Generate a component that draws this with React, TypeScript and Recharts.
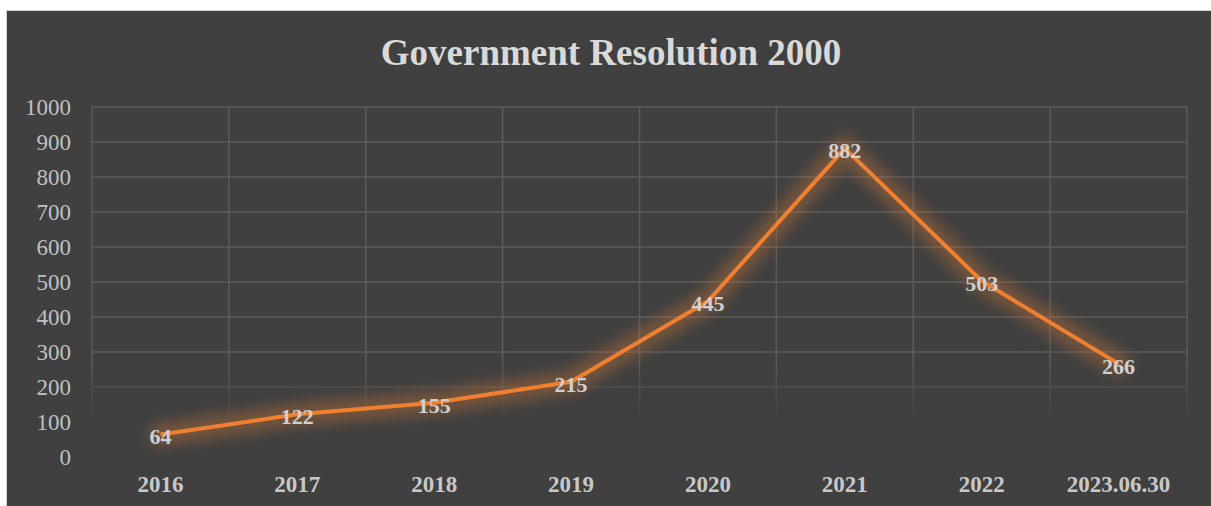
import React from 'react'
import { CartesianGrid, LabelList, Line, LineChart, XAxis, YAxis } from 'recharts'

const categories = ['2016', '2017', '2018', '2019', '2020', '2021', '2022', '2023.06.30']
const resolutions = [64, 122, 155, 215, 445, 882, 503, 266]
const yTicks = [0, 100, 200, 300, 400, 500, 600, 700, 800, 900, 1000]

const data = categories.map((period, i) => ({ period, value: resolutions[i] }))

const FONT = '"Liberation Serif", "Times New Roman", serif'

export default function App() {
  return (
    <div style={{ position: 'absolute', left: 0, top: 0, width: 1211, height: 506, background: '#fff' }}>
      <div
        style={{
          position: 'absolute',
          left: 6,
          top: 10,
          width: 1205,
          height: 496,
          background: '#404040',
          borderTop: '1px solid #d0d0d0',
          borderLeft: '1px solid #d0d0d0',
          boxSizing: 'border-box',
        }}
      />
      <div
        style={{
          position: 'absolute',
          left: 0,
          top: 31,
          width: 1222,
          textAlign: 'center',
          fontFamily: FONT,
          fontWeight: 'bold',
          fontSize: 37,
          color: '#d9d9d9',
        }}
      >
        Government Resolution 2000
      </div>
      <div style={{ position: 'absolute', left: 0, top: 0 }}>
        <LineChart width={1211} height={506} data={data} margin={{ top: 107, right: 24, left: 12, bottom: 0 }}>
          <defs>
            <linearGradient id="gridFade" gradientUnits="userSpaceOnUse" x1="0" y1="107" x2="0" y2="457">
              <stop offset="0%" stopColor="#5a5a5a" />
              <stop offset="72%" stopColor="#5a5a5a" />
              <stop offset="90%" stopColor="#5a5a5a" stopOpacity={0} />
              <stop offset="100%" stopColor="#5a5a5a" stopOpacity={0} />
            </linearGradient>
            <filter id="glow" x="-10%" y="-20%" width="120%" height="140%">
              <feGaussianBlur in="SourceGraphic" stdDeviation="7" />
            </filter>
          </defs>
          <CartesianGrid
            stroke="url(#gridFade)"
            strokeWidth={1.5}
            verticalCoordinatesGenerator={({ offset }) =>
              categories.map((_, i) => offset.left + (i * offset.width) / categories.length).concat(offset.left + offset.width)
            }
          />
          <XAxis
            dataKey="period"
            scale="band"
            axisLine={false}
            tickLine={false}
            tickSize={0}
            tickMargin={19}
            height={49}
            interval={0}
            tick={{ fontFamily: FONT, fontSize: 23, fontWeight: 'bold', fill: '#c8c8c8' }}
          />
          <YAxis
            domain={[0, 1000]}
            ticks={yTicks}
            axisLine={false}
            tickLine={false}
            tickSize={0}
            tickMargin={21}
            width={80}
            interval={0}
            tick={{ fontFamily: FONT, fontSize: 23, fill: '#c0c0c0' }}
          />
          <Line
            type="linear"
            dataKey="value"
            stroke="#e07a30"
            strokeWidth={22}
            strokeOpacity={0.35}
            strokeLinecap="round"
            dot={false}
            activeDot={false}
            filter="url(#glow)"
            isAnimationActive={false}
          />
          <Line
            type="linear"
            dataKey="value"
            stroke="#f08030"
            strokeWidth={4}
            dot={false}
            activeDot={false}
            isAnimationActive={false}
          >
            <LabelList
              dataKey="value"
              position="center"
              dy={2}
              style={{ fontFamily: FONT, fontSize: 22, fontWeight: 'bold', fill: '#d0d0d0' }}
            />
          </Line>
        </LineChart>
      </div>
    </div>
  )
}
